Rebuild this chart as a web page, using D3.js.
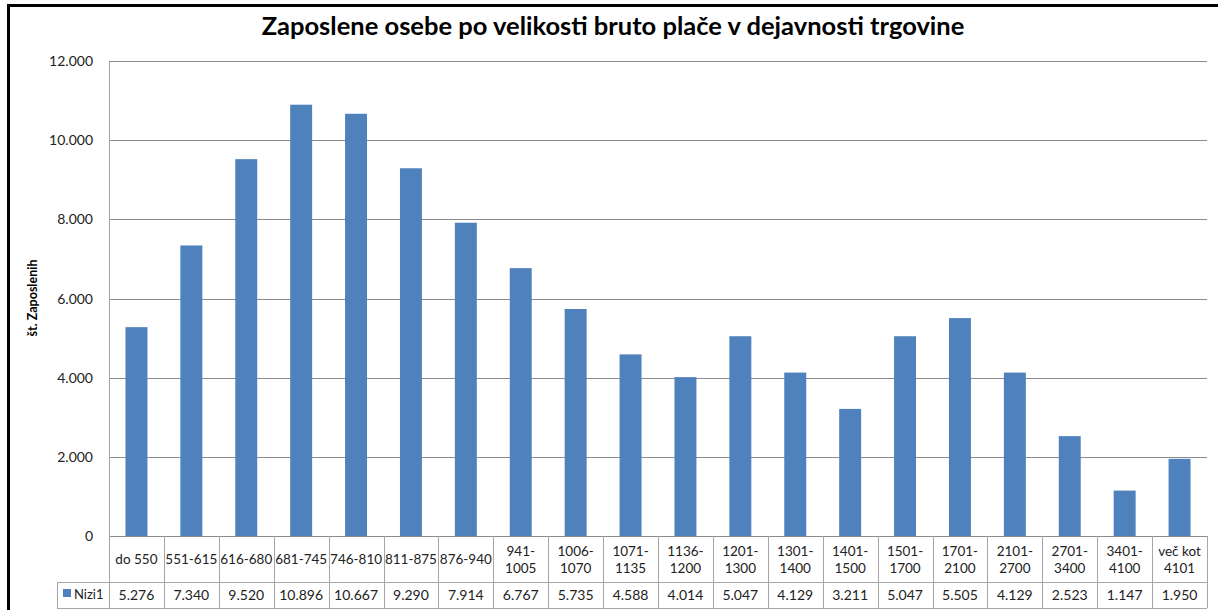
<!DOCTYPE html>
<html>
<head>
<meta charset="utf-8">
<script src="https://cdn.jsdelivr.net/npm/d3@7"></script>
<style>
  body { margin: 0; background: #fff; }
  text { font-family: Lato, "Open Sans", sans-serif; }
</style>
</head>
<body>
<div id="chart"></div>
<script>
const w = 1218, h = 610;

// data
const categories = [
    ["do 550"], ["551-615"], ["616-680"], ["681-745"], ["746-810"], ["811-875"], ["876-940"],
    ["941-", "1005"], ["1006-", "1070"], ["1071-", "1135"], ["1136-", "1200"], ["1201-", "1300"],
    ["1301-", "1400"], ["1401-", "1500"], ["1501-", "1700"], ["1701-", "2100"], ["2101-", "2700"],
    ["2701-", "3400"], ["3401-", "4100"], ["več kot", "4101"]
];
const values = [5276, 7340, 9520, 10896, 10667, 9290, 7914, 6767, 5735, 4588, 4014, 5047,
    4129, 3211, 5047, 5505, 4129, 2523, 1147, 1950];
const yTicks = [0, 2000, 4000, 6000, 8000, 10000, 12000];
const seriesName = "Nizi1";

const plotLeft = 109, plotRight = 1207, plotTop = 61, base = 536;
const rowCat = 582, rowVal = 608, legendLeft = 57;

const fmt = d => d === 0 ? "0" : d3.format(",")(d).replace(/,/g, ".");

const svg = d3.select("#chart")
    .append("svg")
    .attr("width", w)
    .attr("height", h);

// outer frame
svg.append("rect")
    .attr("x", 8.5).attr("y", 5.5)
    .attr("width", w).attr("height", h)
    .attr("fill", "none")
    .attr("stroke", "#000")
    .attr("stroke-width", 3);

svg.append("text")
    .attr("x", 613).attr("y", 35)
    .attr("text-anchor", "middle")
    .attr("font-size", 25.5)
    .attr("font-weight", "bold")
    .text("Zaposlene osebe po velikosti bruto plače v dejavnosti trgovine");

const x = d3.scaleBand()
    .domain(d3.range(categories.length))
    .range([plotLeft, plotRight]);

const y = d3.scaleLinear()
    .domain([0, 12000])
    .range([base, plotTop]);

// gridlines
svg.append("g")
    .selectAll("line")
    .data(yTicks)
    .enter().append("line")
    .attr("x1", plotLeft).attr("x2", plotRight)
    .attr("y1", d => Math.round(y(d)) + 0.5)
    .attr("y2", d => Math.round(y(d)) + 0.5)
    .attr("stroke", "#8c8c8c")
    .attr("stroke-width", 1);

svg.append("g")
    .selectAll("text")
    .data(yTicks)
    .enter().append("text")
    .attr("x", 93)
    .attr("y", d => y(d) + 5)
    .attr("text-anchor", "end")
    .attr("font-size", 14)
    .attr("fill", "#222")
    .text(fmt);

svg.append("text")
    .attr("transform", "translate(37,298) rotate(-90)")
    .attr("text-anchor", "middle")
    .attr("font-size", 12.5)
    .attr("font-weight", "bold")
    .text("št. Zaposlenih");

// bars
const bw = x.bandwidth() / 2.5;
svg.append("g")
    .selectAll("rect")
    .data(values)
    .enter().append("rect")
    .attr("x", (d, i) => x(i) + (x.bandwidth() - bw) / 2)
    .attr("y", d => y(d))
    .attr("width", bw)
    .attr("height", d => base - y(d))
    .attr("fill", "#4f81bd");

// data table
const table = svg.append("g")
    .attr("stroke", "#a6a6a6")
    .attr("stroke-width", 1)
    .attr("fill", "none");

table.append("line")
    .attr("x1", plotLeft + 0.5).attr("x2", plotLeft + 0.5)
    .attr("y1", plotTop).attr("y2", rowVal);
table.append("line")
    .attr("x1", legendLeft).attr("x2", plotRight)
    .attr("y1", rowCat + 0.5).attr("y2", rowCat + 0.5);
table.append("line")
    .attr("x1", legendLeft).attr("x2", plotRight)
    .attr("y1", rowVal + 0.5).attr("y2", rowVal + 0.5);
table.append("line")
    .attr("x1", legendLeft + 0.5).attr("x2", legendLeft + 0.5)
    .attr("y1", rowCat).attr("y2", rowVal);
table.selectAll(".sep")
    .data(d3.range(1, categories.length + 1))
    .enter().append("line")
    .attr("class", "sep")
    .attr("x1", i => Math.round(x(i - 1) + x.bandwidth()) + 0.5)
    .attr("x2", i => Math.round(x(i - 1) + x.bandwidth()) + 0.5)
    .attr("y1", base).attr("y2", rowVal);

const catText = svg.append("g")
    .selectAll("text")
    .data(categories)
    .enter().append("text")
    .attr("text-anchor", "middle")
    .attr("font-size", 13.5)
    .attr("fill", "#222")
    .attr("x", (d, i) => x(i) + x.bandwidth() / 2)
    .attr("y", d => d.length === 1 ? 564 : 556);

catText.selectAll("tspan")
    .data(d => d)
    .enter().append("tspan")
    .attr("x", function() { return this.parentNode.getAttribute("x"); })
    .attr("dy", (d, i) => i === 0 ? 0 : 17)
    .text(d => d);

svg.append("g")
    .selectAll("text")
    .data(values)
    .enter().append("text")
    .attr("text-anchor", "middle")
    .attr("font-size", 14)
    .attr("fill", "#222")
    .attr("x", (d, i) => x(i) + x.bandwidth() / 2)
    .attr("y", 600)
    .text(fmt);

// legend key
svg.append("rect")
    .attr("x", 63).attr("y", 589)
    .attr("width", 8).attr("height", 8)
    .attr("fill", "#4f81bd");
svg.append("text")
    .attr("x", 74).attr("y", 599)
    .attr("font-size", 13)
    .attr("fill", "#222")
    .text(seriesName);
</script>
</body>
</html>
